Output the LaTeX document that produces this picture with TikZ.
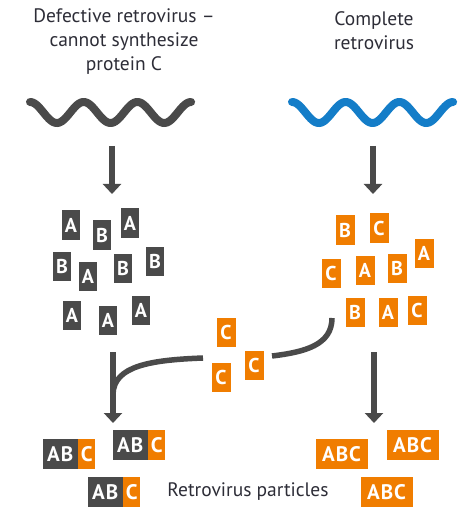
\documentclass[tikz,border=0pt]{standalone}
\usepackage{fontspec}
\setmainfont{PT Sans}
\usetikzlibrary{arrows.meta}
\definecolor{vgray}{RGB}{74,74,74}
\definecolor{vorange}{RGB}{240,125,0}
\definecolor{vblue}{RGB}{20,125,200}
\definecolor{txt}{RGB}{45,45,55}
\tikzset{
  label/.style={font=\fontsize{19.5}{24}\selectfont, text=txt, align=center, inner sep=0pt},
  protein/.style={minimum width=18pt, minimum height=29pt, inner sep=0pt, text=white,
    font=\fontsize{20}{20}\selectfont\bfseries},
  gprot/.style={protein, fill=vgray},
  oprot/.style={protein, fill=vorange, minimum width=19pt},
  part/.style={minimum height=30pt, inner sep=0pt, text=white,
    font=\fontsize{21}{21}\selectfont\bfseries},
  gpart/.style={part, fill=vgray, minimum width=35pt, anchor=east,
    font=\fontsize{21}{21}\selectfont\bfseries\addfontfeature{LetterSpace=5}},
  opart/.style={part, fill=vorange, minimum width=17pt, anchor=west},
  ofull/.style={part, fill=vorange, minimum width=52pt,
    font=\fontsize{21}{21}\selectfont\bfseries\addfontfeature{LetterSpace=5}},
  wave/.style={line width=8pt, line cap=round},
  flow/.style={draw=vgray, line width=6.5pt, -{Triangle[width=18pt,length=10pt]}},
  conn/.style={draw=vgray, line width=5.5pt},
}
\begin{document}
\begin{tikzpicture}[x=1pt,y=-1pt]
\useasboundingbox (0,0) rectangle (467,510);

% headings
\node[label] (hL) at (124,42) {Defective retrovirus –\\cannot synthesize\\protein C};
\node[label] (hR) at (374,31) {Complete\\retrovirus};

% genomes
\draw[wave, vgray] plot[domain=0:1080, samples=120, smooth] ({30+\x/360*53.7}, {112.5-10.5*cos(\x)});
\draw[wave, vblue] plot[domain=0:1080, samples=120, smooth] ({292+\x/360*53.7}, {112.5-10.5*cos(\x)});

% translation arrows
\coordinate (tLs) at (112,146);
\coordinate (tLe) at (112,194);
\coordinate (tRs) at (373,146);
\coordinate (tRe) at (373,194);
\draw[flow] (tLs) -- (tLe);
\draw[flow] (tRs) -- (tRe);

% proteins of the defective virus
\node[gprot] (gA1) at (71,225) {A};
\node[gprot] (gB1) at (102,235) {B};
\node[gprot] (gA2) at (130,223) {A};
\node[gprot] (gB2) at (62,266) {B};
\node[gprot] (gA3) at (88,276) {A};
\node[gprot] (gB3) at (123,268) {B};
\node[gprot] (gB4) at (155,261) {B};
\node[gprot] (gA4) at (72,315) {A};
\node[gprot] (gA5) at (108,320) {A};
\node[gprot] (gA6) at (141,310) {A};

% proteins of the complete virus
\node[oprot] (oB1) at (345,230) {B};
\node[oprot] (oC1) at (379,228) {C};
\node[oprot] (oA1) at (424,253) {A};
\node[oprot] (oC2) at (331,273) {C};
\node[oprot] (oA2) at (365,270) {A};
\node[oprot] (oB2) at (397,268) {B};
\node[oprot] (oB3) at (355,312) {B};
\node[oprot] (oA3) at (388,312) {A};
\node[oprot] (oC3) at (417,310) {C};

% protein C shared with the defective virus
\node[oprot] (sC1) at (226,332) {C};
\node[oprot] (sC2) at (221,377) {C};
\node[oprot] (sC3) at (254,365) {C};

% assembly paths
\coordinate (rS) at (332,318);
\coordinate (rE) at (272,356);
\draw[conn] (rS) .. controls (332,345) and (305,352) .. (rE);
\coordinate (lS) at (203,358);
\coordinate (lE) at (113,394);
\draw[conn] (lS) .. controls (150,360) and (114,366) .. (lE);
\coordinate (aLs) at (113,352);
\coordinate (aLe) at (113,423);
\coordinate (aRs) at (374,352);
\coordinate (aRe) at (374,423);
\draw[flow] (aLs) -- (aLe);
\draw[flow] (aRs) -- (aRe);

% particles made with borrowed protein C
\node[gpart] (p1ab) at (78,454) {AB};
\node[opart] (p1c) at (p1ab.east) {C};
\node[gpart] (p2ab) at (148,445) {AB};
\node[opart] (p2c) at (p2ab.east) {C};
\node[gpart] (p3ab) at (123,492) {AB};
\node[opart] (p3c) at (p3ab.east) {C};

% complete particles
\node[ofull] (q1) at (341.5,454) {ABC};
\node[ofull] (q2) at (412.5,445) {ABC};
\node[ofull] (q3) at (386.5,492) {ABC};

\node[label] (cap) at (248,492) {Retrovirus particles};
\end{tikzpicture}
\end{document}
